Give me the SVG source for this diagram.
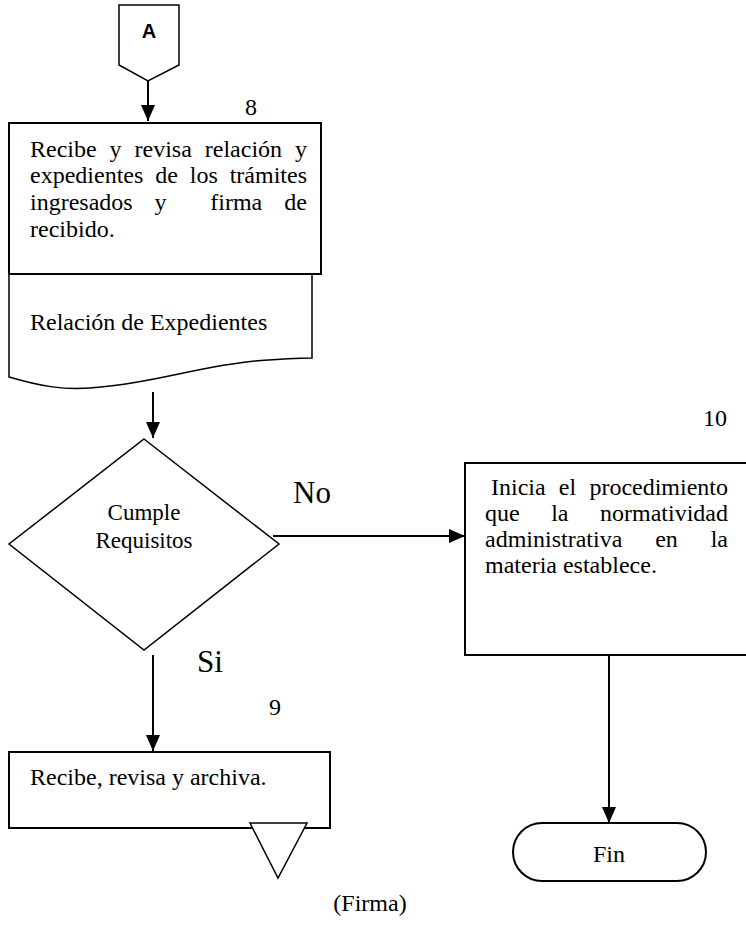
<svg xmlns="http://www.w3.org/2000/svg" width="746" height="951" viewBox="0 0 746 951">
  <style>
    .shape { fill: #fff; stroke: #000; stroke-width: 2; }
    .thin { fill: #fff; stroke: #000; stroke-width: 1.5; }
    .txt { font-family: "Liberation Serif", "Times New Roman", serif; font-size: 24px; fill: #000; }
    .dec { font-family: "Liberation Serif", "Times New Roman", serif; font-size: 23px; fill: #000; }
    .num { font-family: "Liberation Serif", "Times New Roman", serif; font-size: 24px; fill: #000; }
    .big { font-family: "Liberation Serif", "Times New Roman", serif; font-size: 31px; fill: #000; }
    .edge { fill: none; stroke: #000; stroke-width: 2; marker-end: url(#arrow); }
  </style>
  <defs>
    <marker id="arrow" markerUnits="userSpaceOnUse" markerWidth="16" markerHeight="14" refX="16" refY="7" orient="auto">
      <path d="M0,0 L16,7 L0,14 Z" fill="#000"/>
    </marker>
  </defs>
  <rect width="746" height="951" fill="#fff"/>

  <!-- off-page connector A -->
  <g id="connector-a">
    <path class="thin" d="M119,5 L179,5 L179,65 L148,81 L119,65 Z"/>
    <text x="149" y="38" text-anchor="middle" font-family="Liberation Sans, Arial, sans-serif" font-weight="bold" font-size="20">A</text>
  </g>

  <!-- step 8 -->
  <g id="step-8">
    <text class="num" x="245" y="115">8</text>
    <path class="thin" d="M9,274 L9,377 C40,386 62,390 90,388 C150,384 200,366 255,361 C280,359 300,358 312,358 L312,274"/>
    <rect class="shape" x="9" y="123" width="312" height="151"/>
    <text class="txt" y="157"><tspan x="30">Recibe</tspan><tspan x="109.6">y</tspan><tspan x="134.5">revisa</tspan><tspan x="204.8">relación</tspan><tspan x="295">y</tspan></text>
    <text class="txt" y="183"><tspan x="30">expedientes</tspan><tspan x="155.2">de</tspan><tspan x="189.8">los</tspan><tspan x="229.7">trámites</tspan></text>
    <text class="txt" y="210"><tspan x="30">ingresados</tspan><tspan x="154.5">y</tspan><tspan x="210.3">firma</tspan><tspan x="284.3">de</tspan></text>
    <text class="txt" x="30" y="237">recibido.</text>
    <text class="txt" x="30" y="330">Relación de Expedientes</text>
  </g>

  <!-- decision -->
  <g id="decision">
    <path class="thin" d="M144,439 L279,544 L144,650 L9,544 Z"/>
    <text class="dec" x="144" y="520" text-anchor="middle">Cumple</text>
    <text class="dec" x="144" y="548" text-anchor="middle">Requisitos</text>
  </g>

  <!-- step 10 -->
  <g id="step-10">
    <text class="num" x="703" y="426">10</text>
    <rect class="shape" x="465" y="463" width="300" height="192"/>
    <text class="txt" y="495"><tspan x="491">Inicia</tspan><tspan x="558.8">el</tspan><tspan x="589.4">procedimiento</tspan></text>
    <text class="txt" y="521"><tspan x="485">que</tspan><tspan x="551.2">la</tspan><tspan x="600">normatividad</tspan></text>
    <text class="txt" y="547"><tspan x="485">administrativa</tspan><tspan x="655.2">en</tspan><tspan x="710.7">la</tspan></text>
    <text class="txt" x="485" y="573">materia establece.</text>
  </g>

  <!-- step 9 -->
  <g id="step-9">
    <text class="num" x="269" y="715">9</text>
    <rect class="shape" x="9" y="752" width="321" height="76"/>
    <text class="txt" x="30" y="785">Recibe, revisa y archiva.</text>
    <path class="thin" d="M250,823 L307,823 L278,878 Z"/>
  </g>

  <!-- terminator -->
  <g id="fin">
    <rect class="shape" x="513" y="823" width="193" height="58" rx="29" ry="29"/>
    <text x="609" y="862" text-anchor="middle" font-family="Liberation Serif, Times New Roman, serif" font-size="24">Fin</text>
  </g>

  <text class="txt" x="370" y="911" text-anchor="middle">(Firma)</text>

  <!-- connectors -->
  <g id="connectors">
    <line class="edge" x1="148" y1="81" x2="148" y2="121"/>
    <line class="edge" x1="153" y1="392" x2="153" y2="438"/>
    <line class="edge" x1="273" y1="536" x2="465" y2="536"/>
    <line class="edge" x1="153" y1="655" x2="153" y2="751"/>
    <line class="edge" x1="609" y1="655" x2="609" y2="823"/>
    <text class="big" x="293" y="503">No</text>
    <text class="big" x="197" y="672">Si</text>
  </g>
</svg>
